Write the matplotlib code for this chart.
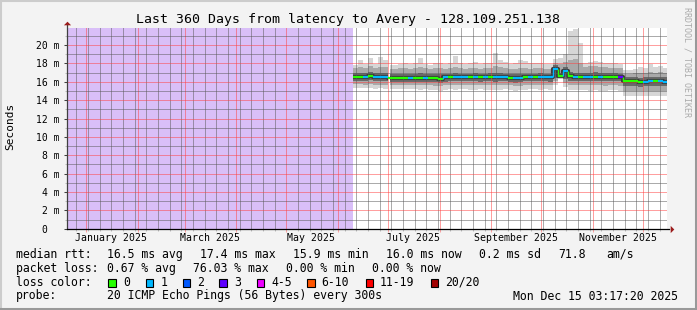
import numpy as np
import pandas as pd
import matplotlib
matplotlib.use('Agg')
import matplotlib.pyplot as plt
import matplotlib.dates as mdates
from matplotlib.patches import Rectangle

W, H = 697, 310
MONO = ['DejaVu Sans Mono']

title = "Last 360 Days from latency to Avery - 128.109.251.138"
t_end = pd.Timestamp('2025-12-15 03:17:20')
t_start = t_end - pd.Timedelta(days=360)
unknown_end = pd.Timestamp('2025-06-10 00:00')
outage = (pd.Timestamp('2025-06-30 20:00'), pd.Timestamp('2025-07-01 20:00'))

sample_start = '2025-06-10'
sample_step = '3D'

median = [16.55, 16.55, 16.55, 16.6, 16.55, 16.5, 16.5,
          16.45, 16.45, 16.45, 16.45, 16.45, 16.45, 16.45, 16.45, 16.45, 16.4,
          16.35, 16.5, 16.5, 16.5, 16.5,
          16.5, 16.5, 16.5, 16.5, 16.5, 16.5, 16.5, 16.5, 16.5,
          16.45, 16.38, 16.4, 16.5, 16.5, 16.5, 16.5, 16.5, 16.5,
          17.4, 16.6, 17.2, 16.6, 16.5, 16.5,
          16.55, 16.55, 16.55, 16.55, 16.55, 16.55, 16.55, 16.5,
          16.05, 16.05, 16.05, 15.95, 16.0, 16.05, 16.05, 16.05, 16.0]
loss = [0, 0, 1, 0, 1, 1, 1,
        0, 0, 0, 0, 1, 0, 0, 1, 0, 0,
        0, 1, 0, 1, 1,
        1, 0, 1, 0, 1, 0, 1, 1, 1,
        0, 1, 1, 0, 1, 0, 1, 1, 1,
        1, 0, 1, 0, 1, 0,
        1, 1, 0, 1, 0, 0, 0, 3,
        0, 0, 0, 0, 1, 1, 0, 1, 1]
hi1 = [17.8, 18.4, 17.9, 18.6, 17.9, 18.7, 18.4,
       17.8, 17.8, 17.9, 18.0, 17.9, 18.1, 18.6, 17.9, 17.8, 18.0,
       18.1, 17.9, 18.0, 18.8, 18.0,
       17.9, 18.0, 18.2, 17.9, 18.0, 18.1, 19.1, 18.4, 18.2,
       17.9, 18.0, 18.4, 18.3, 18.0, 18.0, 18.1, 17.9, 17.9,
       18.5, 18.6, 19.0, 21.5, 21.8, 20.2,
       18.1, 18.2, 18.3, 18.2, 18.0, 18.0, 18.0, 17.9,
       17.3, 17.3, 17.4, 17.6, 17.5, 17.9, 17.6, 17.7, 17.5]
hi2 = [17.5, 17.6, 17.5, 17.7, 17.5, 17.6, 17.6,
       17.4, 17.4, 17.5, 17.5, 17.4, 17.5, 17.6, 17.5, 17.4, 17.5,
       17.5, 17.4, 17.5, 17.6, 17.5,
       17.4, 17.5, 17.5, 17.4, 17.5, 17.5, 17.7, 17.6, 17.5,
       17.4, 17.4, 17.5, 17.5, 17.4, 17.5, 17.5, 17.4, 17.4,
       18.0, 17.9, 18.2, 18.4, 18.5, 18.1,
       17.6, 17.7, 17.7, 17.6, 17.6, 17.5, 17.5, 17.5,
       16.9, 16.9, 17.0, 17.0, 17.0, 17.1, 17.0, 17.1, 17.0]
hi3 = [16.95, 17.0, 16.95, 17.05, 16.95, 16.95, 16.95,
       16.85, 16.85, 16.9, 16.9, 16.85, 16.9, 16.95, 16.9, 16.85, 16.85,
       16.8, 16.9, 16.9, 16.95, 16.9,
       16.9, 16.9, 16.95, 16.9, 16.9, 16.95, 17.0, 16.95, 16.9,
       16.85, 16.8, 16.85, 16.9, 16.9, 16.9, 16.95, 16.9, 16.9,
       17.8, 17.0, 17.6, 17.1, 17.0, 17.0,
       17.0, 17.0, 17.05, 17.0, 17.0, 16.95, 16.95, 16.9,
       16.5, 16.5, 16.5, 16.45, 16.5, 16.55, 16.5, 16.55, 16.5]
lo3 = [16.1, 16.1, 16.1, 16.15, 16.1, 16.05, 16.05,
       16.0, 16.0, 16.0, 16.0, 16.0, 16.0, 16.0, 16.0, 15.95, 15.95,
       15.85, 16.0, 16.05, 16.05, 16.05,
       16.05, 16.05, 16.05, 16.0, 16.05, 16.05, 16.0, 16.05, 16.05,
       16.0, 15.9, 15.95, 16.05, 16.05, 16.05, 16.05, 16.05, 16.0,
       16.4, 16.45, 16.3, 16.1, 16.05, 16.05,
       16.1, 16.1, 16.1, 16.1, 16.1, 16.1, 16.05, 16.05,
       15.55, 15.55, 15.55, 15.45, 15.5, 15.55, 15.55, 15.55, 15.5]
lo2 = [15.75, 15.75, 15.7, 15.75, 15.7, 15.7, 15.7,
       15.65, 15.65, 15.65, 15.7, 15.65, 15.65, 15.65, 15.65, 15.6, 15.55,
       15.5, 15.6, 15.65, 15.65, 15.65,
       15.65, 15.65, 15.6, 15.65, 15.65, 15.6, 15.6, 15.65, 15.65,
       15.6, 15.5, 15.55, 15.65, 15.65, 15.65, 15.6, 15.65, 15.6,
       16.1, 16.4, 15.9, 15.6, 15.6, 15.6,
       15.6, 15.6, 15.6, 15.6, 15.55, 15.6, 15.6, 15.55,
       15.0, 15.0, 15.05, 14.95, 15.0, 15.0, 15.05, 15.0, 15.0]
lo1 = [15.35, 15.3, 15.3, 15.3, 15.25, 15.3, 15.25,
       15.25, 15.2, 15.2, 15.25, 15.2, 15.2, 15.15, 15.2, 15.15, 15.1,
       15.0, 15.15, 15.2, 15.15, 15.2,
       15.2, 15.15, 15.15, 15.2, 15.15, 15.1, 15.1, 15.15, 15.2,
       15.15, 15.05, 15.1, 15.15, 15.2, 15.2, 15.15, 15.2, 15.15,
       15.6, 16.35, 15.4, 15.1, 15.1, 15.1,
       15.1, 15.05, 15.1, 15.05, 15.05, 15.1, 15.1, 15.0,
       14.5, 14.45, 14.5, 14.4, 14.45, 14.5, 14.5, 14.45, 14.5]

yticks = [0, 2, 4, 6, 8, 10, 12, 14, 16, 18, 20]
ytick_labels = ['0  ', '2 m', '4 m', '6 m', '8 m', '10 m', '12 m', '14 m', '16 m', '18 m', '20 m']
month_labels = [('2025-01-01', 'January 2025'), ('2025-03-01', 'March 2025'),
                ('2025-05-01', 'May 2025'), ('2025-07-01', 'July 2025'),
                ('2025-09-01', 'September 2025'), ('2025-11-01', 'November 2025')]

loss_names = ['0', '1', '2', '3', '4-5', '6-10', '11-19', '20/20']
loss_colors = ['#26ff00', '#00b8ff', '#0059ff', '#5e00ff', '#ee00ff', '#ff5500', '#ff0000', '#a10000']

stat_line1 = [('median rtt:', 16), ('16.5 ms avg', 107.3), ('17.4 ms max', 200), ('15.9 ms min', 293.3),
              ('16.0 ms now', 385.7), ('0.2 ms sd', 479), ('71.8', 558.3), ('am/s', 606.7)]
stat_line2 = [('packet loss:', 16), ('0.67 % avg', 107.3), ('76.03 % max', 193.3), ('0.00 % min', 286.0),
              ('0.00 % now', 372.3)]
probe_line = [('probe:', 16), ('20 ICMP Echo Pings (56 Bytes) every 300s', 107.3),
              ('Mon Dec 15 03:17:20 2025', 512.7)]
loss_box_x = [108.3, 145.7, 182.7, 219.3, 256.7, 307.3, 365.7, 430.7]
loss_lbl_x = [123.3, 160.7, 197.3, 234.3, 271.0, 321.7, 380.0, 445.0]

# ---------------------------------------------------------------
fig = plt.figure(figsize=(W / 100, H / 100), dpi=100)
fig.patch.set_facecolor('#f3f3f3')

ax_l, ax_r, ax_t, ax_b = 66.7, 666.7, 28.0, 228.7
ax = fig.add_axes([ax_l / W, 1 - ax_b / H, (ax_r - ax_l) / W, (ax_b - ax_t) / H])
ax.set_facecolor('white')

dates = pd.date_range(sample_start, periods=len(median), freq=sample_step)
xs = mdates.date2num(list(dates) + [t_end])


def ext(a):
    a = np.asarray(a, float)
    return np.append(a, a[-1])


ax.axvspan(t_start, unknown_end, color='#d9bff8', lw=0, zorder=0.8)

ax.fill_between(xs, ext(lo1), ext(hi1), step='post', color='#d6d6d6', lw=0, zorder=1)
ax.fill_between(xs, ext(lo2), ext(hi2), step='post', color='#a9a9a9', lw=0, zorder=1.1)
ax.fill_between(xs, ext(lo3), ext(hi3), step='post', color='#6a6a6a', lw=0, zorder=1.2)
ax.step(xs, ext(median), where='post', color='#3c3c3c', lw=3.0, zorder=1.3,
        solid_capstyle='butt')
ax.axvspan(outage[0], outage[1], color='white', lw=0, zorder=1.4)

med = np.asarray(median)
cols = [loss_colors[k] for k in loss]
ax.hlines(med, xs[:-1], xs[1:], colors=cols, lw=1.6, zorder=3)
ax.vlines(xs[1:-1], med[:-1], med[1:], colors=cols[1:], lw=1.0, zorder=3)

ax.set_xlim(mdates.date2num(t_start), mdates.date2num(t_end))
ax.set_ylim(0, 21.86)

ax.xaxis.set_major_locator(mdates.MonthLocator())
ax.xaxis.set_minor_locator(mdates.WeekdayLocator(byweekday=mdates.TH))
ax.xaxis.set_major_formatter(plt.NullFormatter())
ax.set_yticks(yticks)
ax.set_yticklabels(ytick_labels, family=MONO, fontsize=7)
ax.set_yticks(np.arange(1, 22, 2), minor=True)

major_c = (1.0, 0.25, 0.25, 0.18)
minor_c = (0.35, 0.35, 0.35, 0.15)
ax.set_axisbelow(False)
ax.grid(which='major', color=major_c, linestyle=(0, (1, 1)), lw=0.72)
ax.grid(which='minor', color=minor_c, linestyle=(0, (1, 1)), lw=0.72)
ax.tick_params(which='major', direction='out', length=2.2, width=0.75,
               color=(1.0, 0.25, 0.25, 0.45), pad=3)
ax.tick_params(which='minor', direction='out', length=1.5, width=0.75,
               color=(0.35, 0.35, 0.35, 0.35))
ax.tick_params(axis='y', which='major', color='#404040')

for s in ['top', 'right', 'left', 'bottom']:
    ax.spines[s].set_visible(False)
ax_h = ax_b - ax_t
ax_w = ax_r - ax_l
ax.plot([0, 0], [0, 1 + 3 / ax_h], transform=ax.transAxes, color='#404040', lw=0.9,
        clip_on=False, zorder=4)
ax.plot([0, 1 + 2.5 / ax_w], [0, 0], transform=ax.transAxes, color='#000000', lw=0.9,
        clip_on=False, zorder=4)
ax.plot([0], [1 + 5.2 / ax_h], transform=ax.transAxes, marker=[(-1, -0.5), (1, -0.5), (0, 0.5)],
        ms=5.2, color='#9b1c1c', clip_on=False, zorder=5, mew=0)
ax.plot([1 + 4.8 / ax_w], [0], transform=ax.transAxes, marker=[(-0.5, -1), (-0.5, 1), (0.5, 0)],
        ms=5.2, color='#9b1c1c', clip_on=False, zorder=5, mew=0)

xtrans = ax.get_xaxis_transform()
for d, lbl in month_labels:
    xd = mdates.date2num(pd.Timestamp(d) + pd.Timedelta(days=15))
    ax.text(xd, -9.5 / ax_h, lbl, transform=xtrans, ha='center', va='center',
            family=MONO, fontsize=7.1, color='black')

# title and side texts
fig.text(348.5 / W, 1 - 19.5 / H, title, ha='center', va='center', family=MONO, fontsize=9.5)
fig.text(10 / W, 1 - 126 / H, 'Seconds', rotation=90, ha='center', va='center',
         family=MONO, fontsize=8)
fig.text(687 / W, 1 - 62 / H, 'RRDTOOL / TOBI OETIKER', rotation=270, ha='center', va='center',
         family=MONO, fontsize=6, color='#aaaaaa')

FS = 8.3
for row, yy in ((stat_line1, 254.3), (stat_line2, 268.3), (probe_line, 296.0)):
    for txt, xx in row:
        fig.text(xx / W, 1 - yy / H, txt, ha='left', va='center', family=MONO, fontsize=FS)

fig.text(16 / W, 1 - 282.3 / H, 'loss color:', ha='left', va='center', family=MONO, fontsize=FS)
for name, col, bx, lx in zip(loss_names, loss_colors, loss_box_x, loss_lbl_x):
    fig.add_artist(Rectangle((bx / W, 1 - 286.5 / H), 7.5 / W, 8 / H, transform=fig.transFigure,
                             facecolor=col, edgecolor='black', lw=0.8))
    fig.text(lx / W, 1 - 282.3 / H, name, ha='left', va='center', family=MONO, fontsize=FS)

# 3D frame
fig.add_artist(plt.Line2D([0, 1], [1 - 1 / H, 1 - 1 / H], transform=fig.transFigure, color='#cccccc', lw=1.5))
fig.add_artist(plt.Line2D([1 / W, 1 / W], [0, 1], transform=fig.transFigure, color='#cccccc', lw=1.5))
fig.add_artist(plt.Line2D([0, 1], [1.5 / H, 1.5 / H], transform=fig.transFigure, color='#999999', lw=2.2))
fig.add_artist(plt.Line2D([1 - 1.5 / W, 1 - 1.5 / W], [0, 1], transform=fig.transFigure, color='#999999', lw=2.2))

fig.savefig('out.png', dpi=100, facecolor=fig.get_facecolor())
